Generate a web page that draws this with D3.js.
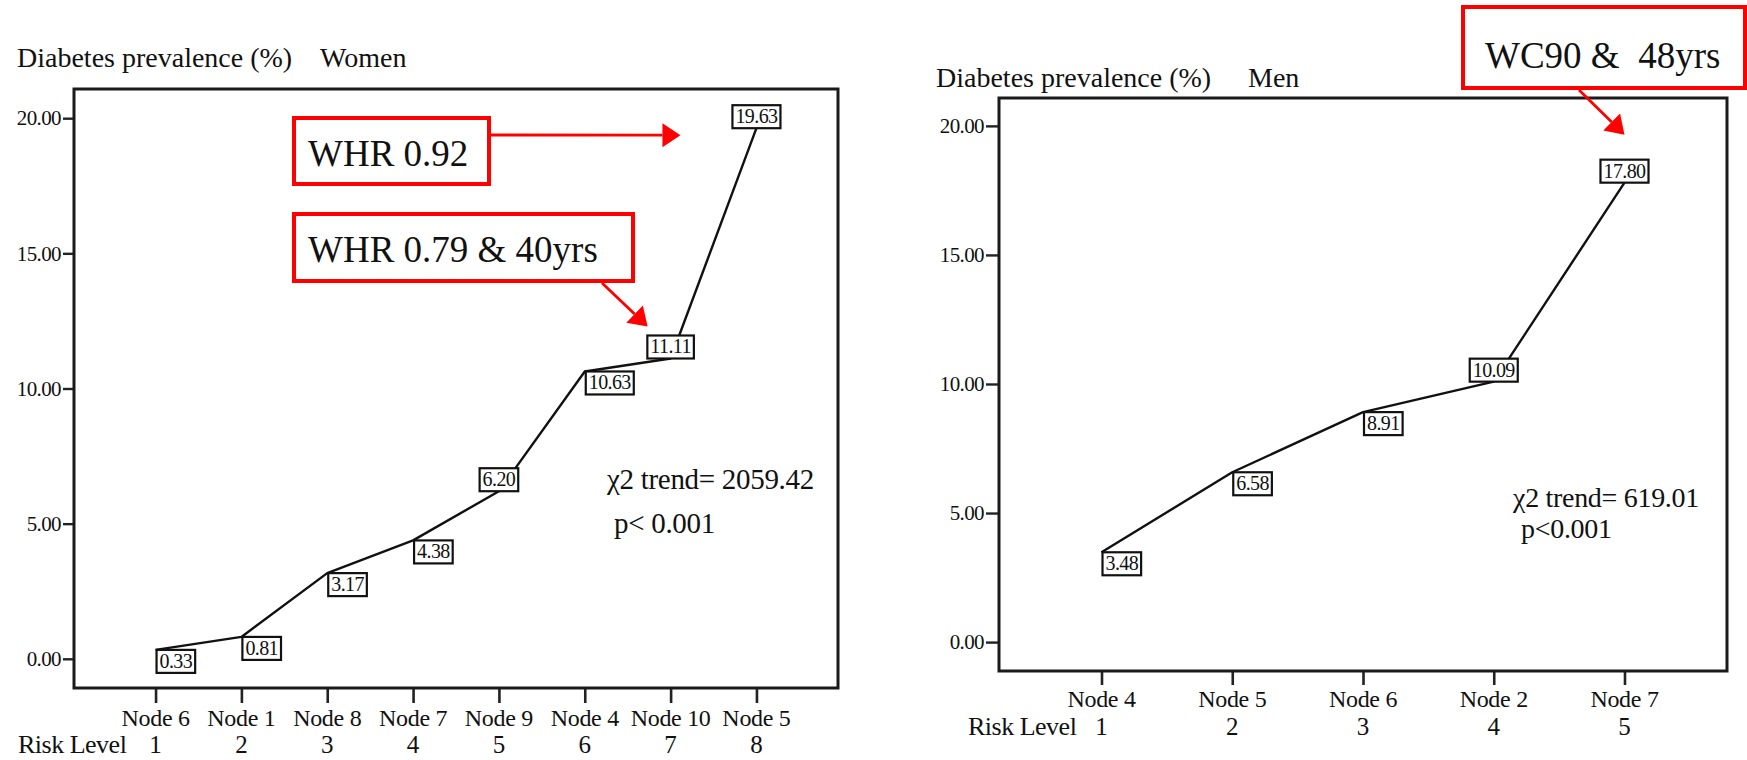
<!DOCTYPE html>
<html>
<head>
<meta charset="utf-8">
<script src="https://cdn.jsdelivr.net/npm/d3@7/dist/d3.min.js"></script>
<style>
  html, body { margin: 0; padding: 0; background: #fff; }
  svg { display: block; }
  text { font-family: "Liberation Serif", "Times New Roman", serif; fill: #111; }
</style>
</head>
<body>
<svg id="chart" width="1747" height="760" font-family="Liberation Serif, serif"></svg>
<script>
// ---- data ----
const womenNodes = ["Node 6", "Node 1", "Node 8", "Node 7", "Node 9", "Node 4", "Node 10", "Node 5"];
const womenRisk = ["1", "2", "3", "4", "5", "6", "7", "8"];
const womenPrevalence = [0.33, 0.81, 3.17, 4.38, 6.20, 10.63, 11.11, 19.63];
const womenLabelSide = ["below", "below", "below", "below", "above", "below", "above", "above"];

const menNodes = ["Node 4", "Node 5", "Node 6", "Node 2", "Node 7"];
const menRisk = ["1", "2", "3", "4", "5"];
const menPrevalence = [3.48, 6.58, 8.91, 10.09, 17.80];
const menLabelSide = ["below", "below", "below", "above", "above"];

const yTicks = [0, 5, 10, 15, 20];
const womenTrend = ["\u03c72 trend= 2059.42", "p< 0.001"];
const menTrend = ["\u03c72 trend= 619.01", "p<0.001"];

const svg = d3.select("#chart");
const fmt = d3.format(".2f");
const SERIF = "'Liberation Serif', 'Times New Roman', serif";

function drawPanel(o) {
  const g = svg.append("g");
  const x = d3.scalePoint().domain(o.nodes).range([o.box.x0, o.box.x1]).padding(o.pad);
  const y = d3.scaleLinear().domain(o.yDomain).range([o.box.y1, o.box.y0]);

  // y axis ticks and labels
  const yAxis = d3.axisLeft(y).tickValues(yTicks).tickFormat(fmt)
    .tickSize(o.yTickLen).tickPadding(2);
  const ya = g.append("g").attr("transform", `translate(${o.box.x0},0)`).call(yAxis)
    .attr("font-family", SERIF);
  ya.select(".domain").remove();
  ya.selectAll(".tick line").attr("stroke", "#222").attr("stroke-width", 2.4);
  ya.selectAll(".tick text").style("font-size", "21px").attr("fill", "#222")
    .style("font-family", SERIF).attr("letter-spacing", "-0.6");

  // x axis ticks
  const xAxis = d3.axisBottom(x).tickSize(o.xTickLen).tickFormat("");
  const xa = g.append("g").attr("transform", `translate(0,${o.box.y1})`).call(xAxis);
  xa.select(".domain").remove();
  xa.selectAll(".tick line").attr("stroke", "#222").attr("stroke-width", 2.6);

  // node names under the ticks
  g.selectAll(".node-lab").data(o.nodes).join("text")
    .attr("x", d => x(d)).attr("y", o.nodeBase)
    .attr("text-anchor", "middle").style("font-size", "24px").attr("letter-spacing", "-0.3")
    .text(d => d);

  // risk level row
  g.append("text").attr("x", o.riskX).attr("y", o.riskBase)
    .style("font-size", "26px").attr("letter-spacing", "-0.5").text("Risk Level");
  g.selectAll(".risk-lab").data(o.risk).join("text")
    .attr("x", (d, i) => x(o.nodes[i])).attr("y", o.riskBase)
    .attr("text-anchor", "middle").style("font-size", "25px")
    .text(d => d);

  // plot frame
  g.append("rect")
    .attr("x", o.box.x0).attr("y", o.box.y0)
    .attr("width", o.box.x1 - o.box.x0).attr("height", o.box.y1 - o.box.y0)
    .attr("fill", "none").attr("stroke", "#1a1a1a").attr("stroke-width", 3);

  // titles
  g.append("text").attr("x", o.titleX).attr("y", o.titleBase)
    .style("font-size", "28px").text("Diabetes prevalence (%)");
  g.append("text").attr("x", o.groupX).attr("y", o.titleBase)
    .style("font-size", "28px").text(o.group);

  // prevalence line
  const pts = o.values.map((v, i) => [x(o.nodes[i]), y(v)]);
  g.append("path").attr("d", d3.line()(pts))
    .attr("fill", "none").attr("stroke", "#111").attr("stroke-width", 2.4)
    .attr("stroke-linejoin", "round");

  // value labels in boxes
  const lab = g.selectAll(".val").data(o.values).join("g");
  lab.each(function (v, i) {
    const s = d3.select(this);
    const px = x(o.nodes[i]), py = y(v);
    const t = s.append("text").style("font-size", "20px").attr("letter-spacing", "-0.6")
      .attr("text-anchor", "middle").text(fmt(v));
    const w = t.node().getComputedTextLength() + 6, h = 23;
    const bx = o.sides[i] === "below" ? px + 1 : px - w / 2;
    const by = o.sides[i] === "below" ? py : py - h;
    s.insert("rect", "text").attr("x", bx).attr("y", by).attr("width", w).attr("height", h)
      .attr("fill", "#fff").attr("stroke", "#111").attr("stroke-width", 2.2);
    t.attr("x", bx + w / 2).attr("y", by + h - 5);
  });

  // trend statistics
  g.append("text").attr("x", o.trendX).attr("y", o.trendBase)
    .style("font-size", o.trendSize + "px").attr("letter-spacing", "-0.3").text(o.trend[0]);
  g.append("text").attr("x", o.trendX + o.pIndent).attr("y", o.trendBase + o.pGap)
    .style("font-size", o.trendSize + "px").attr("letter-spacing", "-0.3").text(o.trend[1]);

  return { x, y, g };
}

function callout(g, box, label, textX, textBase, from, tip) {
  g.append("rect").attr("x", box[0]).attr("y", box[1]).attr("width", box[2]).attr("height", box[3])
    .attr("fill", "#fff").attr("stroke", "#ff0000").attr("stroke-width", 4);
  g.append("text").attr("x", textX).attr("y", textBase)
    .style("font-size", "37px").style("white-space", "pre").attr("xml:space", "preserve")
    .attr("fill", "#000").text(label);
  const ang = Math.atan2(tip[1] - from[1], tip[0] - from[0]);
  const len = 18, half = 12;
  const base = [tip[0] - len * Math.cos(ang), tip[1] - len * Math.sin(ang)];
  g.append("line").attr("x1", from[0]).attr("y1", from[1]).attr("x2", base[0]).attr("y2", base[1])
    .attr("stroke", "#ff0000").attr("stroke-width", 2.8);
  const px = -Math.sin(ang), py = Math.cos(ang);
  g.append("polygon")
    .attr("points", [tip, [base[0] + px * half, base[1] + py * half], [base[0] - px * half, base[1] - py * half]]
      .map(p => p.join(",")).join(" "))
    .attr("fill", "#ff0000");
}

// ---- women ----
const W = drawPanel({
  nodes: womenNodes, risk: womenRisk, values: womenPrevalence, sides: womenLabelSide,
  box: { x0: 74, x1: 838, y0: 89, y1: 688 }, yDomain: [-1.08, 21.08], pad: 0.95,
  yTickLen: 11, xTickLen: 15, nodeBase: 726, riskBase: 753, riskX: 18,
  titleX: 17, titleBase: 67, group: "Women", groupX: 320,
  trend: womenTrend, trendSize: 29, trendX: 607, trendBase: 489, pIndent: 7, pGap: 44
});
{
  const p5 = [W.x("Node 5"), W.y(19.63)];
  callout(W.g, [294, 118, 195, 66], "WHR 0.92", 308, 166, [491, 135], [p5[0] - 76, p5[1] + 7]);
  const p10 = [W.x("Node 10"), W.y(11.11)];
  callout(W.g, [294, 214, 339, 67], "WHR 0.79 & 40yrs", 308, 262, [602, 283], [p10[0] - 23, p10[1] - 32]);
}

// ---- men ----
const M = drawPanel({
  nodes: menNodes, risk: menRisk, values: menPrevalence, sides: menLabelSide,
  box: { x0: 999, x1: 1727, y0: 98, y1: 671 }, yDomain: [-1.12, 21.08], pad: 0.784,
  yTickLen: 13, xTickLen: 14, nodeBase: 707, riskBase: 735, riskX: 968,
  titleX: 936, titleBase: 87, group: "Men", groupX: 1248,
  trend: menTrend, trendSize: 28, trendX: 1513, trendBase: 507, pIndent: 8, pGap: 31
});
{
  const p7 = [M.x("Node 7"), M.y(17.80)];
  callout(M.g, [1463, 7, 282, 81], "WC90 &  48yrs", 1485, 68, [1579, 90], [p7[0], p7[1] - 48]);
}
</script>
</body>
</html>
